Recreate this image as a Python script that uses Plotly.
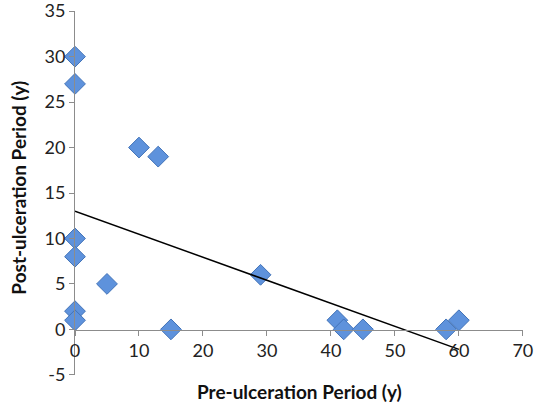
import plotly.graph_objects as go

pre_period = [0, 0, 0, 0, 0, 0, 5, 10, 13, 15, 29, 41, 42, 45, 58, 60]
post_period = [30, 27, 10, 8, 2, 1, 5, 20, 19, 0, 6, 1, 0, 0, 0, 1]
trend_x = [0, 60]
trend_y = [13.0, -2.2]
x_ticks = [0, 10, 20, 30, 40, 50, 60, 70]
y_ticks = [-5, 0, 5, 10, 15, 20, 25, 30, 35]
y_tick_labels = ["-5", "0", "5", "10", "15", "20", "25", "30", "35"]

fig = go.Figure()
fig.add_trace(go.Scatter(
    x=pre_period, y=post_period, mode="markers",
    marker=dict(symbol="diamond", size=16, color="#5e92dc",
                line=dict(color="#4273b8", width=1)),
    showlegend=False, cliponaxis=False))
fig.add_trace(go.Scatter(
    x=trend_x, y=trend_y, mode="lines",
    line=dict(color="black", width=1.5), showlegend=False))

font = dict(family="Lato, 'Open Sans', sans-serif", size=18, color="#222")
title_font = dict(family="Lato, 'Open Sans', sans-serif", size=19, color="#111")
fig.update_layout(
    width=544, height=411,
    margin=dict(l=75, r=21, t=11, b=36, autoexpand=False),
    paper_bgcolor="white", plot_bgcolor="white",
    font=font,
    xaxis=dict(range=[0, 70.02], tickvals=x_ticks, showgrid=False, zeroline=False,
               showline=True, linecolor="#8c8c8c", linewidth=1,
               ticks="outside", ticklen=5, tickcolor="#8c8c8c",
               anchor="free", position=0.125, tickfont=font, automargin=False),
    yaxis=dict(range=[-5.02, 35.02], tickvals=y_ticks, ticktext=y_tick_labels,
               showgrid=False, zeroline=False,
               showline=True, linecolor="#8c8c8c", linewidth=1,
               ticks="outside", ticklen=5, tickcolor="#8c8c8c", tickfont=font,
               automargin=False, ticklabeloverflow="allow"),
    annotations=[
        dict(text="<b>Pre-ulceration Period (y)</b>", xref="paper", yref="paper",
             x=0.5, y=-0.044, xanchor="center", yanchor="middle", showarrow=False,
             font=title_font),
        dict(text="<b>Post-ulceration Period (y)</b>", xref="paper", yref="paper",
             x=-0.127, y=0.515, xanchor="center", yanchor="middle", showarrow=False,
             textangle=-90, font=title_font),
    ],
)
fig.write_html("out.html", config={"displayModeBar": False},
               post_script="document.body.style.margin='0';")
